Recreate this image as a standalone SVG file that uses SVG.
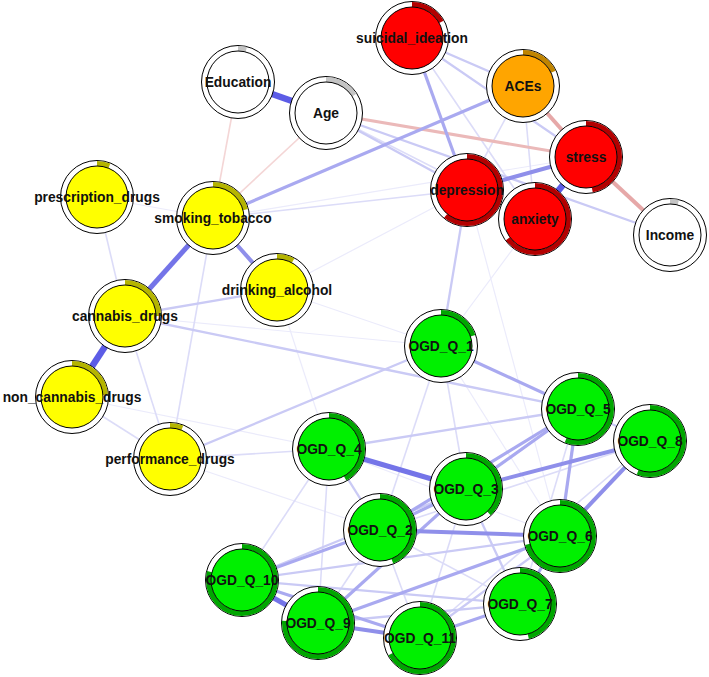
<svg xmlns="http://www.w3.org/2000/svg" width="709" height="677" viewBox="0 0 709 677">
<style>
.e{fill:none;stroke-linecap:butt}
.pA{stroke:#5c5ce6;stroke-width:6.5}
.pB{stroke:#7474e8;stroke-width:5}
.pC{stroke:#8f8fea;stroke-width:4}
.pD{stroke:#a9a9f0;stroke-width:3.2}
.pE{stroke:#cacaf5;stroke-width:2.3}
.pF{stroke:#dcdcf8;stroke-width:1.6}
.pG{stroke:#ebebfb;stroke-width:1.2}
.nA{stroke:#e6a8a8;stroke-width:4}
.nB{stroke:#ebb9b9;stroke-width:3}
.nC{stroke:#f4d6d6;stroke-width:1.6}
.ring{fill:#fff;stroke:#000;stroke-width:1}
.pie{fill:none;stroke-width:5}
.in{stroke:#000;stroke-width:1}
.red .in{fill:#ff0000}.red .pie{stroke:#b30000}
.org .in{fill:#ffa500}.org .pie{stroke:#bf8400}
.yel .in{fill:#ffff00}.yel .pie{stroke:#b4b400}
.grn .in{fill:#00f000}.grn .pie{stroke:#00a600}
.wht .in{fill:#ffffff}.wht .pie{stroke:#c4c4c4}
text{font-family:"Liberation Sans",Arial,sans-serif;font-weight:bold;font-size:13.8px;fill:#111;text-anchor:middle;dominant-baseline:central}
</style>
<rect width="709" height="677" fill="#fff"/>
<g id="edges" class="e">
<line class="pG" x1="72" y1="397" x2="329" y2="449"/>
<line class="pG" x1="170" y1="459" x2="380" y2="530"/>
<line class="pG" x1="535" y1="219" x2="441" y2="346"/>
<line class="pG" x1="467" y1="190" x2="560" y2="536"/>
<line class="pG" x1="277" y1="290" x2="467" y2="190"/>
<line class="pG" x1="277" y1="290" x2="441" y2="346"/>
<line class="pG" x1="329" y1="449" x2="560" y2="536"/>
<line class="pG" x1="441" y1="346" x2="560" y2="536"/>
<line class="pG" x1="97" y1="197" x2="213" y2="218"/>
<line class="pG" x1="213" y1="218" x2="586" y2="157"/>
<line class="pG" x1="125" y1="316" x2="441" y2="346"/>
<line class="pG" x1="277" y1="290" x2="329" y2="449"/>
<line class="pF" x1="97" y1="197" x2="125" y2="316"/>
<line class="pF" x1="72" y1="397" x2="170" y2="459"/>
<line class="pF" x1="170" y1="459" x2="329" y2="449"/>
<line class="pF" x1="242" y1="580" x2="329" y2="449"/>
<line class="pF" x1="441" y1="346" x2="380" y2="530"/>
<line class="pF" x1="441" y1="346" x2="466" y2="489"/>
<line class="pF" x1="213" y1="218" x2="467" y2="190"/>
<line class="pF" x1="326" y1="113" x2="535" y2="219"/>
<line class="pF" x1="412" y1="38" x2="535" y2="219"/>
<line class="pF" x1="523" y1="86" x2="467" y2="190"/>
<line class="pF" x1="523" y1="86" x2="535" y2="219"/>
<line class="pF" x1="380" y1="530" x2="318" y2="623"/>
<line class="pF" x1="380" y1="530" x2="420" y2="638"/>
<line class="pF" x1="329" y1="449" x2="318" y2="623"/>
<line class="pF" x1="380" y1="530" x2="520" y2="604"/>
<line class="pF" x1="578" y1="409" x2="520" y2="604"/>
<line class="pF" x1="650" y1="441" x2="420" y2="638"/>
<line class="pF" x1="650" y1="441" x2="380" y2="530"/>
<line class="pF" x1="466" y1="489" x2="420" y2="638"/>
<line class="pF" x1="125" y1="316" x2="170" y2="459"/>
<line class="pF" x1="213" y1="218" x2="170" y2="459"/>
<line class="nC" x1="213" y1="218" x2="326" y2="113"/>
<line class="nC" x1="238" y1="82" x2="213" y2="218"/>
<line class="pE" x1="326" y1="113" x2="467" y2="190"/>
<line class="pE" x1="326" y1="113" x2="670" y2="235"/>
<line class="pE" x1="412" y1="38" x2="586" y2="157"/>
<line class="pE" x1="412" y1="38" x2="523" y2="86"/>
<line class="pE" x1="125" y1="316" x2="277" y2="290"/>
<line class="pE" x1="170" y1="459" x2="441" y2="346"/>
<line class="pE" x1="125" y1="316" x2="578" y2="409"/>
<line class="pE" x1="329" y1="449" x2="380" y2="530"/>
<line class="pE" x1="329" y1="449" x2="578" y2="409"/>
<line class="pE" x1="467" y1="190" x2="441" y2="346"/>
<line class="pE" x1="242" y1="580" x2="560" y2="536"/>
<line class="pE" x1="242" y1="580" x2="466" y2="489"/>
<line class="pE" x1="318" y1="623" x2="520" y2="604"/>
<line class="pE" x1="242" y1="580" x2="520" y2="604"/>
<line class="pE" x1="420" y1="638" x2="560" y2="536"/>
<line class="pE" x1="466" y1="489" x2="520" y2="604"/>
<line class="pE" x1="650" y1="441" x2="578" y2="409"/>
<line class="nB" x1="326" y1="113" x2="586" y2="157"/>
<line class="pD" x1="441" y1="346" x2="578" y2="409"/>
<line class="pD" x1="578" y1="409" x2="560" y2="536"/>
<line class="pD" x1="380" y1="530" x2="578" y2="409"/>
<line class="pD" x1="466" y1="489" x2="578" y2="409"/>
<line class="pD" x1="318" y1="623" x2="466" y2="489"/>
<line class="pD" x1="242" y1="580" x2="380" y2="530"/>
<line class="pD" x1="318" y1="623" x2="560" y2="536"/>
<line class="pD" x1="242" y1="580" x2="420" y2="638"/>
<line class="pD" x1="420" y1="638" x2="520" y2="604"/>
<line class="pD" x1="520" y1="604" x2="560" y2="536"/>
<line class="pD" x1="380" y1="530" x2="466" y2="489"/>
<line class="pD" x1="213" y1="218" x2="523" y2="86"/>
<line class="pD" x1="412" y1="38" x2="467" y2="190"/>
<line class="nA" x1="523" y1="86" x2="586" y2="157"/>
<line class="nA" x1="586" y1="157" x2="670" y2="235"/>
<line class="pC" x1="380" y1="530" x2="560" y2="536"/>
<line class="pC" x1="466" y1="489" x2="650" y2="441"/>
<line class="pC" x1="560" y1="536" x2="650" y2="441"/>
<line class="pC" x1="318" y1="623" x2="420" y2="638"/>
<line class="pC" x1="213" y1="218" x2="277" y2="290"/>
<line class="pC" x1="467" y1="190" x2="586" y2="157"/>
<line class="pB" x1="242" y1="580" x2="318" y2="623"/>
<line class="pB" x1="329" y1="449" x2="466" y2="489"/>
<line class="pB" x1="213" y1="218" x2="125" y2="316"/>
<line class="pA" x1="586" y1="157" x2="535" y2="219"/>
<line class="pA" x1="238" y1="82" x2="326" y2="113"/>
<line class="pA" x1="125" y1="316" x2="72" y2="397"/>
</g>
<g id="n_suicidal_ideation" class="red" transform="translate(412,38)"><circle class="ring" r="36.5"/><circle class="pie" r="33.5" pathLength="100" stroke-dasharray="17 100" transform="rotate(-90)"/><circle class="in" r="31"/><text>suicidal_ideation</text></g>
<g id="n_Education" class="wht" transform="translate(238,82)"><circle class="ring" r="36.5"/><circle class="pie" r="33.5" pathLength="100" stroke-dasharray="4 100" transform="rotate(-90)"/><circle class="in" r="31"/><text>Education</text></g>
<g id="n_Age" class="wht" transform="translate(326,113)"><circle class="ring" r="36.5"/><circle class="pie" r="33.5" pathLength="100" stroke-dasharray="16 100" transform="rotate(-90)"/><circle class="in" r="31"/><text>Age</text></g>
<g id="n_ACEs" class="org" transform="translate(523,86)"><circle class="ring" r="36.5"/><circle class="pie" r="33.5" pathLength="100" stroke-dasharray="18 100" transform="rotate(-90)"/><circle class="in" r="31"/><text>ACEs</text></g>
<g id="n_stress" class="red" transform="translate(586,157)"><circle class="ring" r="36.5"/><circle class="pie" r="33.5" pathLength="100" stroke-dasharray="47 100" transform="rotate(-90)"/><circle class="in" r="31"/><text>stress</text></g>
<g id="n_depression" class="red" transform="translate(467,190)"><circle class="ring" r="36.5"/><circle class="pie" r="33.5" pathLength="100" stroke-dasharray="61 100" transform="rotate(-90)"/><circle class="in" r="31"/><text>depression</text></g>
<g id="n_anxiety" class="red" transform="translate(535,219)"><circle class="ring" r="36.5"/><circle class="pie" r="33.5" pathLength="100" stroke-dasharray="65 100" transform="rotate(-90)"/><circle class="in" r="31"/><text>anxiety</text></g>
<g id="n_Income" class="wht" transform="translate(670,235)"><circle class="ring" r="36.5"/><circle class="pie" r="33.5" pathLength="100" stroke-dasharray="4 100" transform="rotate(-90)"/><circle class="in" r="31"/><text>Income</text></g>
<g id="n_prescription_drugs" class="yel" transform="translate(97,197)"><circle class="ring" r="36.5"/><circle class="pie" r="33.5" pathLength="100" stroke-dasharray="6 100" transform="rotate(-90)"/><circle class="in" r="31"/><text>prescription_drugs</text></g>
<g id="n_smoking_tobacco" class="yel" transform="translate(213,218)"><circle class="ring" r="36.5"/><circle class="pie" r="33.5" pathLength="100" stroke-dasharray="21 100" transform="rotate(-90)"/><circle class="in" r="31"/><text>smoking_tobacco</text></g>
<g id="n_drinking_alcohol" class="yel" transform="translate(277,290)"><circle class="ring" r="36.5"/><circle class="pie" r="33.5" pathLength="100" stroke-dasharray="8 100" transform="rotate(-90)"/><circle class="in" r="31"/><text>drinking_alcohol</text></g>
<g id="n_cannabis_drugs" class="yel" transform="translate(125,316)"><circle class="ring" r="36.5"/><circle class="pie" r="33.5" pathLength="100" stroke-dasharray="25 100" transform="rotate(-90)"/><circle class="in" r="31"/><text>cannabis_drugs</text></g>
<g id="n_non_cannabis_drugs" class="yel" transform="translate(72,397)"><circle class="ring" r="36.5"/><circle class="pie" r="33.5" pathLength="100" stroke-dasharray="24 100" transform="rotate(-90)"/><circle class="in" r="31"/><text>non_cannabis_drugs</text></g>
<g id="n_performance_drugs" class="yel" transform="translate(170,459)"><circle class="ring" r="36.5"/><circle class="pie" r="33.5" pathLength="100" stroke-dasharray="6 100" transform="rotate(-90)"/><circle class="in" r="31"/><text>performance_drugs</text></g>
<g id="n_OGD_Q_1" class="grn" transform="translate(441,346)"><circle class="ring" r="36.5"/><circle class="pie" r="33.5" pathLength="100" stroke-dasharray="20 100" transform="rotate(-90)"/><circle class="in" r="31"/><text>OGD_Q_1</text></g>
<g id="n_OGD_Q_5" class="grn" transform="translate(578,409)"><circle class="ring" r="36.5"/><circle class="pie" r="33.5" pathLength="100" stroke-dasharray="56 100" transform="rotate(-90)"/><circle class="in" r="31"/><text>OGD_Q_5</text></g>
<g id="n_OGD_Q_8" class="grn" transform="translate(650,441)"><circle class="ring" r="36.5"/><circle class="pie" r="33.5" pathLength="100" stroke-dasharray="56 100" transform="rotate(-90)"/><circle class="in" r="31"/><text>OGD_Q_8</text></g>
<g id="n_OGD_Q_4" class="grn" transform="translate(329,449)"><circle class="ring" r="36.5"/><circle class="pie" r="33.5" pathLength="100" stroke-dasharray="42 100" transform="rotate(-90)"/><circle class="in" r="31"/><text>OGD_Q_4</text></g>
<g id="n_OGD_Q_3" class="grn" transform="translate(466,489)"><circle class="ring" r="36.5"/><circle class="pie" r="33.5" pathLength="100" stroke-dasharray="38 100" transform="rotate(-90)"/><circle class="in" r="31"/><text>OGD_Q_3</text></g>
<g id="n_OGD_Q_2" class="grn" transform="translate(380,530)"><circle class="ring" r="36.5"/><circle class="pie" r="33.5" pathLength="100" stroke-dasharray="44 100" transform="rotate(-90)"/><circle class="in" r="31"/><text>OGD_Q_2</text></g>
<g id="n_OGD_Q_6" class="grn" transform="translate(560,536)"><circle class="ring" r="36.5"/><circle class="pie" r="33.5" pathLength="100" stroke-dasharray="71 100" transform="rotate(-90)"/><circle class="in" r="31"/><text>OGD_Q_6</text></g>
<g id="n_OGD_Q_10" class="grn" transform="translate(242,580)"><circle class="ring" r="36.5"/><circle class="pie" r="33.5" pathLength="100" stroke-dasharray="79 100" transform="rotate(-90)"/><circle class="in" r="31"/><text>OGD_Q_10</text></g>
<g id="n_OGD_Q_7" class="grn" transform="translate(520,604)"><circle class="ring" r="36.5"/><circle class="pie" r="33.5" pathLength="100" stroke-dasharray="46 100" transform="rotate(-90)"/><circle class="in" r="31"/><text>OGD_Q_7</text></g>
<g id="n_OGD_Q_9" class="grn" transform="translate(318,623)"><circle class="ring" r="36.5"/><circle class="pie" r="33.5" pathLength="100" stroke-dasharray="76 100" transform="rotate(-90)"/><circle class="in" r="31"/><text>OGD_Q_9</text></g>
<g id="n_OGD_Q_11" class="grn" transform="translate(420,638)"><circle class="ring" r="36.5"/><circle class="pie" r="33.5" pathLength="100" stroke-dasharray="67 100" transform="rotate(-90)"/><circle class="in" r="31"/><text>OGD_Q_11</text></g>
</svg>
